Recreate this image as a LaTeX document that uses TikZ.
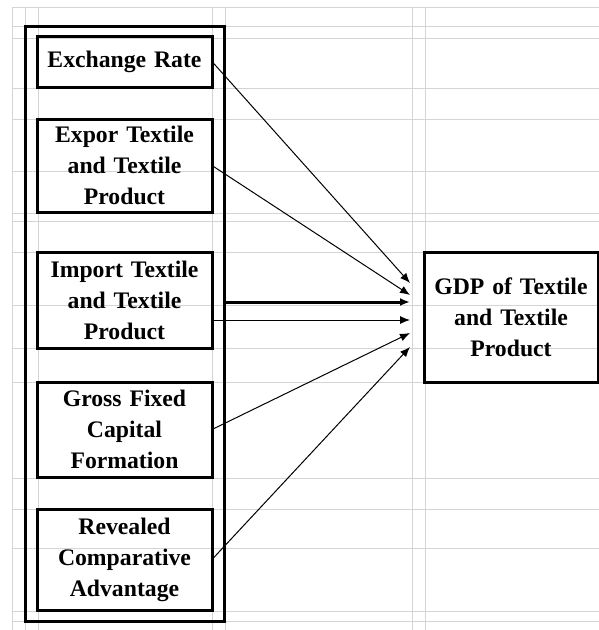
\documentclass[tikz,border=0pt]{standalone}
\usepackage{fontspec}
\setmainfont{Liberation Serif}
\usetikzlibrary{arrows.meta}
\tikzset{
    gridline/.style = {
        draw=black!17,
        line width=1pt
    },
    factornode/.style = {
        align=center,
        text width=168pt,
        font=\bfseries\fontsize{23.7}{31}\selectfont,
        rectangle,
        draw=black,
        line width=3pt,
        minimum width=175pt,
        inner sep=0pt,
        outer sep=0pt
    },
    targetnode/.style = {
        factornode,
        minimum width=174pt,
        minimum height=130pt
    },
    framenode/.style = {
        rectangle,
        draw=black,
        line width=3pt,
        minimum width=199pt,
        minimum height=595pt,
        inner sep=0pt,
        outer sep=0pt
    },
    link/.style = {
        -{Latex[length=10pt,width=8pt]},
        line width=1pt
    },
    thicklink/.style = {
        link,
        line width=3pt
    }
}

\begin{document}
\begin{tikzpicture}[x=1pt,y=-1pt]
    \useasboundingbox (0,0) rectangle (599,630);
    \fill[white] (0,0) rectangle (599,630);
    % sheet grid
    \foreach \gx in {12,25,38,212,225,412,425}
        \draw[gridline] (\gx,7) -- (\gx,630);
    \foreach \gy in {7,26,38,88,119,171,213,221,252,305,348,382,478,509,548,611,621}
        \draw[gridline] (12,\gy) -- (599,\gy);

    \node [framenode] (frame) at (124.5,323.5) {};
    \node [factornode, minimum height=51pt] (rate) at (124.5,61.5) {Exchange Rate};
    \node [factornode, minimum height=93pt] (expor) at (124.5,165.5) {Expor Textile\\and Textile\\Product};
    \node [factornode, minimum height=96pt] (import) at (124.5,300) {Import Textile\\and Textile\\Product};
    \node [factornode, minimum height=95pt] (capital) at (124.5,429.5) {Gross Fixed\\Capital\\Formation};
    \node [factornode, minimum height=101pt] (rca) at (124.5,559.5) {Revealed\\Comparative\\Advantage};
    \node [targetnode] (gdp) at (511,317) {GDP of Textile\\and Textile\\Product};

    \coordinate (t1) at (410,283);
    \coordinate (t2) at (410,295);
    \coordinate (t3) at (410,302);
    \coordinate (t4) at (410,320);
    \coordinate (t5) at (410,333);
    \coordinate (t6) at (410,347);

    \draw [link] (rate.east) -- (t1);
    \draw [link] (expor.east) -- (t2);
    \draw [thicklink] (frame.east |- t3) -- (t3);
    \draw [link] (import.east |- t4) -- (t4);
    \draw [link] (capital.east) -- (t5);
    \draw [link] (rca.east) -- (t6);
\end{tikzpicture}
\end{document}
